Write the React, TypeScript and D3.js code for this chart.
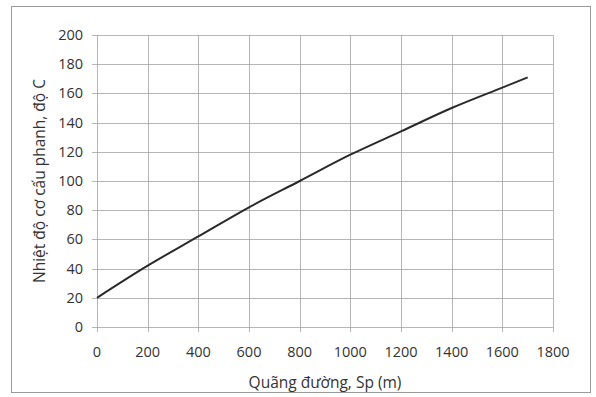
import React, { useEffect, useRef } from 'react';
import * as d3 from 'd3';

// distance (m) and brake temperature (°C)
const distance = [0, 200, 400, 600, 800, 1000, 1200, 1400, 1600, 1700];
const temperature = [20, 42, 62, 82, 100, 118, 134, 150, 164, 171];
const xTicks = [0, 200, 400, 600, 800, 1000, 1200, 1400, 1600, 1800];
const yTicks = [0, 20, 40, 60, 80, 100, 120, 140, 160, 180, 200];

const App = () => {
  const svgRef = useRef<SVGSVGElement>(null);

  useEffect(() => {
    const width = 596;
    const height = 397;
    const margin = { top: 35, right: 43, bottom: 70, left: 97 };
    const font = "'Open Sans', 'Noto Sans', sans-serif";
    const textColor = '#333';

    const svg = d3.select(svgRef.current);
    svg.selectAll('*').remove();
    svg.attr('width', width).attr('height', height);

    svg.append('rect')
      .attr('width', width).attr('height', height)
      .attr('fill', '#fff');

    // chart area border
    svg.append('rect')
      .attr('x', 11.5).attr('y', 6.5)
      .attr('width', 579).attr('height', 386)
      .attr('fill', 'none')
      .attr('stroke', '#9a9a9a')
      .attr('stroke-width', 1);

    const x = d3.scaleLinear()
      .domain([0, 1800])
      .range([margin.left, width - margin.right]);

    const y = d3.scaleLinear()
      .domain([0, 200])
      .range([height - margin.bottom, margin.top]);

    const g = svg.append('g');

    // grid
    g.append('g')
      .selectAll('line')
      .data(yTicks)
      .join('line')
      .attr('x1', x(0) - 5).attr('x2', x(1800))
      .attr('y1', d => Math.round(y(d)) + 0.5)
      .attr('y2', d => Math.round(y(d)) + 0.5)
      .attr('stroke', '#a3a3a3')
      .attr('stroke-width', 0.8);

    g.append('g')
      .selectAll('line')
      .data(xTicks)
      .join('line')
      .attr('x1', d => Math.round(x(d)) + 0.5)
      .attr('x2', d => Math.round(x(d)) + 0.5)
      .attr('y1', y(200)).attr('y2', y(0) + 5)
      .attr('stroke', '#a3a3a3')
      .attr('stroke-width', 0.8);

    // tick labels
    g.append('g')
      .selectAll('text')
      .data(yTicks)
      .join('text')
      .attr('x', x(0) - 14)
      .attr('y', d => y(d))
      .attr('dy', '0.35em')
      .attr('text-anchor', 'end')
      .style('font-family', font)
      .style('font-size', '14.5px')
      .style('fill', textColor)
      .text(d => d);

    g.append('g')
      .selectAll('text')
      .data(xTicks)
      .join('text')
      .attr('x', d => x(d))
      .attr('y', y(0) + 30)
      .attr('text-anchor', 'middle')
      .style('font-family', font)
      .style('font-size', '14.5px')
      .style('fill', textColor)
      .text(d => d);

    // curve
    const line = d3.line<number>()
      .x((_, i) => x(distance[i]))
      .y(d => y(d))
      .curve(d3.curveCatmullRom.alpha(0.5));

    g.append('path')
      .datum(temperature)
      .attr('fill', 'none')
      .attr('stroke', '#2a2a2a')
      .attr('stroke-width', 2)
      .attr('d', line);

    // axis titles
    g.append('text')
      .attr('x', (x(0) + x(1800)) / 2)
      .attr('y', 388)
      .attr('text-anchor', 'middle')
      .style('font-family', font)
      .style('font-size', '15.5px')
      .style('fill', textColor)
      .text('Quãng đường, Sp (m)');

    g.append('text')
      .attr('transform', `translate(45, ${(y(0) + y(200)) / 2}) rotate(-90)`)
      .attr('text-anchor', 'middle')
      .style('font-family', font)
      .style('font-size', '15.5px')
      .style('fill', textColor)
      .text('Nhiệt độ cơ cấu phanh, độ C');
  }, []);

  return <svg ref={svgRef} style={{ position: 'absolute', left: 0, top: 0 }} />;
};

export default App;
